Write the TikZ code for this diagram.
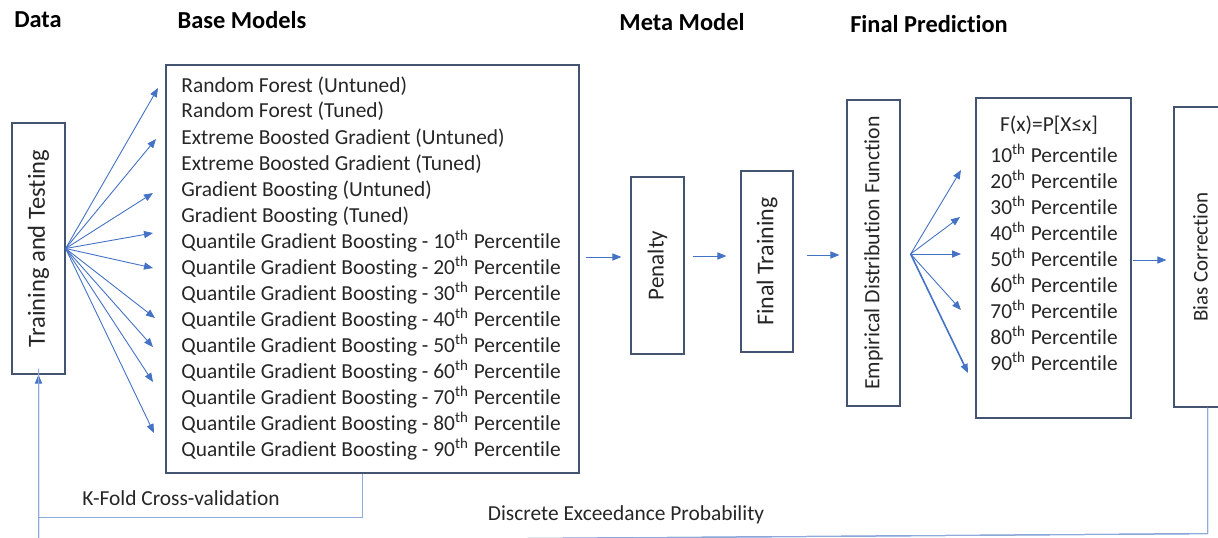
\documentclass[tikz,border=0pt]{standalone}
\usepackage{fontspec}
\setmainfont{Carlito}[Ligatures=NoCommon]
\usepackage{tikz}
\usetikzlibrary{arrows.meta}
\definecolor{boxcolor}{RGB}{68, 84, 112}
\definecolor{arrowcolor}{RGB}{68, 114, 196}
\definecolor{linecolor}{RGB}{143, 170, 220}
\definecolor{textcolor}{RGB}{38, 38, 38}

\tikzset{
  box/.style={draw=boxcolor, line width=0.6pt, inner sep=0pt, text=textcolor, font=\fontsize{10.5}{13}\selectfont},
  arr/.style={draw=arrowcolor, line width=0.45pt, -{Triangle[length=4.5pt, width=3.6pt]}},
  fb/.style={draw=linecolor, line width=0.5pt},
  head/.style={font=\fontsize{12.2}{14}\selectfont\bfseries, text=black},
  lbl/.style={font=\fontsize{10.7}{13}\selectfont, text=textcolor}
}

\begin{document}
\begin{tikzpicture}[x=0.5pt, y=-0.5pt]
        \useasboundingbox (0, 0) rectangle (1218, 537);

        % Column titles
        \node[head] at (38, 20) {Data};
        \node[head] at (242, 20) {Base Models};
        \node[head] at (682, 22) {Meta Model};
        \node[head] at (929, 24) {Final Prediction};

        % Boxes
        \node[box, minimum width=26.5pt, minimum height=125.5pt] (train) at (38.5, 248.5)
                {\fontsize{12.3}{13}\selectfont\rotatebox{90}{Training and Testing}};
        \node[box, minimum width=206.5pt, minimum height=204pt] (base) at (372.5, 269) {};
        \node[lbl, anchor=west, align=left, inner sep=0pt] (models) at (181, 268) {
                        Random Forest (Untuned)\\
                        Random Forest (Tuned)\\
                        Extreme Boosted Gradient (Untuned)\\
                        Extreme Boosted Gradient (Tuned)\\
                        Gradient Boosting (Untuned)\\
                        Gradient Boosting (Tuned)\\
                        Quantile Gradient Boosting - 10\textsuperscript{th} Percentile\\
                        Quantile Gradient Boosting - 20\textsuperscript{th} Percentile\\
                        Quantile Gradient Boosting - 30\textsuperscript{th} Percentile\\
                        Quantile Gradient Boosting - 40\textsuperscript{th} Percentile\\
                        Quantile Gradient Boosting - 50\textsuperscript{th} Percentile\\
                        Quantile Gradient Boosting - 60\textsuperscript{th} Percentile\\
                        Quantile Gradient Boosting - 70\textsuperscript{th} Percentile\\
                        Quantile Gradient Boosting - 80\textsuperscript{th} Percentile\\
                        Quantile Gradient Boosting - 90\textsuperscript{th} Percentile
                };
        \node[box, minimum width=26.5pt, minimum height=88.5pt] (penalty) at (657.5, 265.5)
                {\fontsize{11.5}{13}\selectfont\rotatebox{90}{Penalty}};
        \node[box, minimum width=26pt, minimum height=90.5pt] (final) at (767, 261.5)
                {\fontsize{12}{13}\selectfont\rotatebox{90}{Final Training}};
        \node[box, minimum width=26.5pt, minimum height=153pt] (edf) at (873.5, 253)
                {\fontsize{10.9}{13}\selectfont\rotatebox{90}{Empirical Distribution Function}};
        \node[box, minimum width=77.5pt, minimum height=160pt] (pct) at (1053.5, 258) {};
        \node[box, minimum width=26.5pt, minimum height=150pt] (bias) at (1200.5, 257) {\rotatebox{90}{Bias Correction}};

        % Percentile box text
        \node[lbl] (cdf) at (1049, 125) {F(x)=P[X≤x]};
        \foreach \i in {1,...,9}
                \node[lbl, anchor=west, inner sep=0pt] (p\i) at (990, 127 + 26*\i) {\i0\textsuperscript{th} Percentile};

        % Fan to base models
        \foreach \y/\x in {88/158, 139/156, 193/153, 233/153, 268/153, 318/155, 347/153, 382/153, 433/154}
                \draw[arr] (train.east) -- (\x, \y);

        % Pipeline
        \draw[arr] ([shift={(6,-12)}]base.east) -- ([shift={(-9,-8.5)}]penalty.west);
        \draw[arr] ([shift={(8,-9.5)}]penalty.east) -- ([shift={(-14,-5.5)}]final.west);
        \draw[arr] ([shift={(13,-6.5)}]final.east) -- ([shift={(-7,2)}]edf.west);

        % Fan to percentiles
        \foreach \y/\x in {170/961, 217/960, 254/961, 310/961}
                \draw[arr] ([shift={(10,1)}]edf.east) -- (\x, \y);
        \draw[arr, line width=0.8pt] ([shift={(10,1)}]edf.east) -- (968, 373);

        \draw[arr] ([shift={(1,2)}]pct.east) -- ([shift={(-7,3)}]bias.west);

        % Feedback loops
        \coordinate (corner) at (38.5, 542);
        \draw[fb] ([xshift=-5pt]base.south) -- ++(0, 44) -| (train.south);
        \draw[fb, -{Triangle[length=4.5pt, width=3.6pt]}, arrowcolor] ([xshift=3.5pt]bias.south) -- ++(0, 126) -- (corner) -- (train.south);
        \draw[fb] ([xshift=3.5pt]bias.south) -- ++(0, 126) -- (corner) -- ([yshift=3pt]train.south);

        \node[lbl] (kfold) at (181, 498) {K-Fold Cross-validation};
        \node[lbl] (dep) at (626, 515) {Discrete Exceedance Probability};
\end{tikzpicture}
\end{document}
